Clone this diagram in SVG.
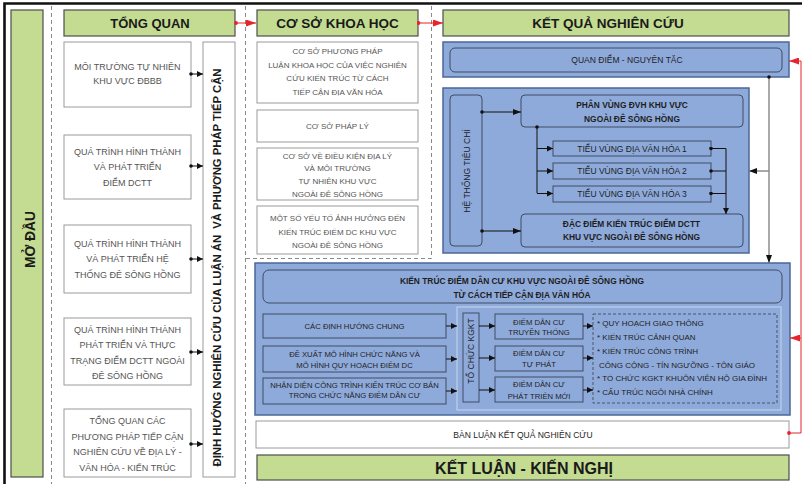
<svg xmlns="http://www.w3.org/2000/svg" width="802" height="484" viewBox="0 0 802 484">
<style>
text{font-family:"Liberation Sans",Arial,Helvetica,sans-serif}
.green{fill:#c4dc91;stroke:#4d4d4d;stroke-width:1.2}
.white{fill:#ffffff;stroke:#9a9a9a;stroke-width:1}
.blue{fill:#8eaadb;stroke:#4a6796;stroke-width:1.5}
.bin{fill:#8eaadb;stroke:#3e4c63;stroke-width:1}
.grp{fill:none;stroke:#c9d6ee;stroke-width:1}
.dash{fill:none;stroke:#8a8a8a;stroke-width:1;stroke-dasharray:4 3}
.ldash{fill:none;stroke:#4a5566;stroke-width:1;stroke-dasharray:3 2}
.bar{font-weight:bold;fill:#1a1a1a;text-anchor:middle}
.g9{font-size:9px;fill:#555;text-anchor:middle}
.g8{font-size:8px;fill:#555;text-anchor:middle}
.d8{font-size:8.5px;fill:#1e1e1e;text-anchor:middle}
.d8b{font-size:8.4px;fill:#1e1e1e;text-anchor:middle;font-weight:bold}
.k8{font-size:7.7px;fill:#1e1e1e;text-anchor:middle}
.li{font-size:8px;fill:#1e1e1e}
.c{fill:none;stroke:#111;stroke-width:1}
.cg{fill:none;stroke:#8c8c8c;stroke-width:1.5}
.cr{fill:none;stroke:#e5252b;stroke-width:1}
</style>
<defs>
<marker id="ah" viewBox="0 0 8 6" refX="8" refY="3" markerWidth="8" markerHeight="6" markerUnits="userSpaceOnUse" orient="auto"><path d="M0,0 L8,3 L0,6 Z" fill="#111"/></marker>
<marker id="ahs" viewBox="0 0 6 6" refX="6" refY="3" markerWidth="6" markerHeight="6" markerUnits="userSpaceOnUse" orient="auto"><path d="M0,0 L6,3 L0,6 Z" fill="#111"/></marker>
<marker id="dot" viewBox="0 0 4 4" refX="2" refY="2" markerWidth="4" markerHeight="4" markerUnits="userSpaceOnUse"><circle cx="2" cy="2" r="1.8" fill="#111"/></marker>
<marker id="ahr" viewBox="0 0 10 7" refX="10" refY="3.5" markerWidth="10" markerHeight="7" markerUnits="userSpaceOnUse" orient="auto"><path d="M0,0 L10,3.5 L0,7 Z" fill="#e5252b"/></marker>
<marker id="dotr" viewBox="0 0 4 4" refX="2" refY="2" markerWidth="4" markerHeight="4" markerUnits="userSpaceOnUse"><circle cx="2" cy="2" r="1.9" fill="#e5252b"/></marker>
</defs>

<!-- frame and section dividers -->
<path d="M4.5,484 V3.5 H802" fill="none" stroke="#111" stroke-width="2.6"/>
<path class="dash" d="M51.5,6 V484"/>
<path class="dash" d="M245.5,6 V484"/>
<path class="dash" d="M431.5,6 V258.5 H245.5"/>

<g id="mo-dau">
<rect class="green" x="11" y="10" width="32" height="467"/>
<text class="bar" font-size="13.8" transform="translate(34.5,239.5) rotate(-90)">MỞ ĐẦU</text>
</g>

<g id="tong-quan">
<rect class="green" x="64" y="10" width="171" height="26"/>
<text class="bar" font-size="13" x="150" y="27.5">TỔNG QUAN</text>
</g>

<g id="tq-1">
<rect class="white" x="64" y="42" width="127" height="65"/>
<text class="g9" x="127.5" y="69.5">MÔI TRƯỜNG TỰ NHIÊN</text>
<text class="g9" x="127.5" y="84.3">KHU VỰC ĐBBB</text>
</g>
<g id="tq-2">
<rect class="white" x="64" y="135" width="127" height="64"/>
<text class="g9" x="127.5" y="155">QUÁ TRÌNH HÌNH THÀNH</text>
<text class="g9" x="127.5" y="170">VÀ PHÁT TRIỂN</text>
<text class="g9" x="127.5" y="185.5">ĐIỂM DCTT</text>
</g>
<g id="tq-3">
<rect class="white" x="64" y="225" width="127" height="68"/>
<text class="g9" x="127.5" y="246.5">QUÁ TRÌNH HÌNH THÀNH</text>
<text class="g9" x="127.5" y="262">VÀ PHÁT TRIỂN HỆ</text>
<text class="g9" x="127.5" y="277.5">THỐNG ĐÊ SÔNG HỒNG</text>
</g>
<g id="tq-4">
<rect class="white" x="64" y="318" width="127" height="67"/>
<text class="g9" x="127.5" y="332.5">QUÁ TRÌNH HÌNH THÀNH</text>
<text class="g9" x="127.5" y="348">PHÁT TRIỂN VÀ THỰC</text>
<text class="g9" x="127.5" y="363.5">TRẠNG ĐIỂM DCTT NGOÀI</text>
<text class="g9" x="127.5" y="378.5">ĐÊ SÔNG HỒNG</text>
</g>
<g id="tq-5">
<rect class="white" x="64" y="409" width="127" height="68"/>
<text class="g9" x="127.5" y="423.5">TỔNG QUAN CÁC</text>
<text class="g9" x="127.5" y="439.5">PHƯƠNG PHÁP TIẾP CẬN</text>
<text class="g9" x="127.5" y="455">NGHIÊN CỨU VỀ ĐỊA LÝ -</text>
<text class="g9" x="127.5" y="470.5">VĂN HÓA - KIẾN TRÚC</text>
</g>
<g id="dinh-huong">
<rect class="white" x="203" y="42" width="32" height="435"/>
<text class="bar" font-size="11.3" transform="translate(221,267.5) rotate(-90)" textLength="398" lengthAdjust="spacing" xml:space="preserve">ĐỊNH HƯỚNG NGHIÊN CỨU CỦA LUẬN ÁN  VÀ PHƯƠNG PHÁP TIẾP CẬN</text>
</g>

<g id="co-so-khoa-hoc">
<rect class="green" x="257" y="10" width="161" height="26"/>
<text class="bar" font-size="13.5" x="337.5" y="28">CƠ SỞ KHOA HỌC</text>
</g>
<g id="cs-1">
<rect class="white" x="257" y="42" width="161" height="61"/>
<text class="g8" x="337.5" y="54">CƠ SỞ PHƯƠNG PHÁP</text>
<text class="g8" x="337.5" y="67.5">LUẬN KHOA HỌC CỦA VIỆC NGHIÊN</text>
<text class="g8" x="337.5" y="81">CỨU KIẾN TRÚC TỪ CÁCH</text>
<text class="g8" x="337.5" y="95">TIẾP CẬN ĐỊA VĂN HÓA</text>
</g>
<g id="cs-2">
<rect class="white" x="257" y="110" width="161" height="32"/>
<text class="g8" x="337.5" y="129">CƠ SỞ PHÁP LÝ</text>
</g>
<g id="cs-3">
<rect class="white" x="257" y="148" width="161" height="52"/>
<text class="g8" x="337.5" y="159">CƠ SỞ VỀ ĐIỀU KIỆN ĐỊA LÝ</text>
<text class="g8" x="337.5" y="171">VÀ MÔI TRƯỜNG</text>
<text class="g8" x="337.5" y="184">TỰ NHIÊN KHU VỰC</text>
<text class="g8" x="337.5" y="196.5">NGOÀI ĐÊ SÔNG HỒNG</text>
</g>
<g id="cs-4">
<rect class="white" x="257" y="206" width="161" height="48"/>
<text class="g8" x="337.5" y="221">MỘT SỐ YẾU TỐ ẢNH HƯỞNG ĐẾN</text>
<text class="g8" x="337.5" y="234.5">KIẾN TRÚC ĐIỂM DC KHU VỰC</text>
<text class="g8" x="337.5" y="248">NGOÀI ĐÊ SÔNG HỒNG</text>
</g>

<g id="ket-qua">
<rect class="green" x="443" y="10" width="346" height="26"/>
<text class="bar" font-size="13.5" x="608" y="28">KẾT QUẢ NGHIÊN CỨU</text>
</g>
<g id="quan-diem">
<rect class="blue" x="443" y="42" width="346" height="35"/>
<rect class="bin" x="450" y="48" width="332" height="24" rx="5"/>
<text class="d8" x="627" y="63">QUAN ĐIỂM - NGUYÊN TẮC</text>
</g>

<g id="phan-vung-panel">
<rect class="blue" x="443" y="88" width="306" height="165"/>
</g>
<g id="he-thong-tieu-chi">
<rect class="bin" x="450" y="95" width="32" height="151" rx="4"/>
<text class="d8" font-size="8" transform="translate(469.5,171) rotate(-90)">HỆ THỐNG TIÊU CHÍ</text>
</g>
<g id="phan-vung">
<rect class="bin" x="521" y="95" width="222" height="32" rx="4"/>
<text class="d8b" x="632" y="108">PHÂN VÙNG ĐVH KHU VỰC</text>
<text class="d8b" x="632" y="122">NGOÀI ĐÊ SÔNG HỒNG</text>
</g>
<g id="tieu-vung-1">
<rect class="bin" x="553" y="141" width="158" height="15"/>
<text class="d8" x="632" y="151.5">TIỂU VÙNG ĐỊA VĂN HÓA 1</text>
</g>
<g id="tieu-vung-2">
<rect class="bin" x="553" y="163" width="158" height="16"/>
<text class="d8" x="632" y="174">TIỂU VÙNG ĐỊA VĂN HÓA 2</text>
</g>
<g id="tieu-vung-3">
<rect class="bin" x="553" y="186" width="158" height="16"/>
<text class="d8" x="632" y="197">TIỂU VÙNG ĐỊA VĂN HÓA 3</text>
</g>
<g id="dac-diem">
<rect class="bin" x="521" y="214" width="222" height="33" rx="4"/>
<text class="d8b" font-size="8.2" x="631.5" y="227">ĐẶC ĐIỂM KIẾN TRÚC ĐIỂM DCTT</text>
<text class="d8b" font-size="8.2" x="631.5" y="240">KHU VỰC NGOÀI ĐÊ SÔNG HỒNG</text>
</g>

<g id="kien-truc-panel">
<rect class="blue" x="255" y="263" width="535" height="152"/>
<rect class="bin" x="263" y="270" width="519" height="33" rx="6"/>
<text class="d8b" font-size="9" x="522" y="284">KIẾN TRÚC ĐIỂM DÂN CƯ KHU VỰC NGOÀI ĐÊ SÔNG HỒNG</text>
<text class="d8b" font-size="9" x="522" y="298">TỪ CÁCH TIẾP CẬN ĐỊA VĂN HÓA</text>
<rect class="grp" x="457" y="307" width="324" height="103"/>
</g>
<g id="dinh-huong-chung">
<rect class="bin" x="263" y="314" width="183" height="24"/>
<text class="k8" x="354.5" y="329">CÁC ĐỊNH HƯỚNG CHUNG</text>
</g>
<g id="de-xuat">
<rect class="bin" x="263" y="346" width="183" height="26"/>
<text class="k8" x="354.5" y="357">ĐỀ XUẤT MÔ HÌNH CHỨC NĂNG VÀ</text>
<text class="k8" x="354.5" y="367.5">MÔ HÌNH QUY HOẠCH ĐIỂM DC</text>
</g>
<g id="nhan-dien">
<rect class="bin" x="263" y="378" width="183" height="26"/>
<text class="k8" x="354.5" y="387.5">NHẬN DIỆN CÔNG TRÌNH KIẾN TRÚC CƠ BẢN</text>
<text class="k8" x="354.5" y="398">TRONG CHỨC NĂNG ĐIỂM DÂN CƯ</text>
</g>
<g id="to-chuc-kgkt">
<rect class="bin" x="463" y="313" width="16" height="89"/>
<text class="d8" font-size="8.2" transform="translate(474,351) rotate(-90)">TỔ CHỨC KGKT</text>
</g>
<g id="dc-truyen-thong">
<rect class="bin" x="495" y="314" width="88" height="25"/>
<text class="k8" x="539" y="324.5">ĐIỂM DÂN CƯ</text>
<text class="k8" x="539" y="335">TRUYỀN THỐNG</text>
</g>
<g id="dc-tu-phat">
<rect class="bin" x="495" y="346" width="88" height="25"/>
<text class="k8" x="539" y="355.5">ĐIỂM DÂN CƯ</text>
<text class="k8" x="539" y="366.5">TỰ PHÁT</text>
</g>
<g id="dc-phat-trien-moi">
<rect class="bin" x="495" y="377" width="88" height="25"/>
<text class="k8" x="539" y="387">ĐIỂM DÂN CƯ</text>
<text class="k8" x="539" y="398.5">PHÁT TRIỂN MỚI</text>
</g>
<g id="danh-sach">
<rect class="ldash" x="593" y="314" width="184" height="89"/>
<text class="li" x="597" y="326">* QUY HOẠCH GIAO THÔNG</text>
<text class="li" x="597" y="340">* KIẾN TRÚC CẢNH QUAN</text>
<text class="li" x="597" y="354">* KIẾN TRÚC CÔNG TRÌNH</text>
<text class="li" x="599" y="367.5">CÔNG CỘNG - TÍN NGƯỠNG - TÔN GIÁO</text>
<text class="li" x="597" y="381">* TỔ CHỨC KGKT KHUÔN VIÊN HỘ GIA ĐÌNH</text>
<text class="li" x="597" y="395">* CẤU TRÚC NGÔI NHÀ CHÍNH</text>
</g>

<g id="ban-luan">
<rect class="white" x="256" y="421" width="533" height="27"/>
<text class="d8" fill="#333" font-size="8.7" x="523" y="437.5">BÀN LUẬN KẾT QUẢ NGHIÊN CỨU</text>
</g>
<g id="ket-luan">
<rect class="green" x="257" y="455" width="532" height="25"/>
<text class="bar" font-size="16" x="524" y="473.5">KẾT LUẬN - KIẾN NGHỊ</text>
</g>

<g id="connectors">
<path class="cr" d="M236,23 H256" marker-start="url(#dotr)" marker-end="url(#ahr)"/>
<path class="cr" d="M418.5,23 H443" marker-start="url(#dotr)" marker-end="url(#ahr)"/>
<path class="c" d="M191,74 H203" marker-start="url(#dot)" marker-end="url(#ahs)"/>
<path class="c" d="M191,166 H203" marker-start="url(#dot)" marker-end="url(#ahs)"/>
<path class="c" d="M191,259 H203" marker-start="url(#dot)" marker-end="url(#ahs)"/>
<path class="c" d="M191,352 H203" marker-start="url(#dot)" marker-end="url(#ahs)"/>
<path class="c" d="M191,444 H203" marker-start="url(#dot)" marker-end="url(#ahs)"/>
<path class="c" d="M482,112 H521" marker-start="url(#dot)" marker-end="url(#ah)"/>
<path class="c" d="M482,231 H521" marker-start="url(#dot)" marker-end="url(#ah)"/>
<path class="c" d="M537,127 V193" marker-start="url(#dot)"/>
<path class="c" d="M537,148.5 H553" marker-end="url(#ahs)"/>
<path class="c" d="M537,171 H553" marker-end="url(#ahs)"/>
<path class="c" d="M537,193.5 H553" marker-end="url(#ahs)"/>
<path class="c" d="M711,148.5 H726 V214" marker-start="url(#dot)" marker-end="url(#ahs)"/>
<path class="c" d="M711,171 H726" marker-start="url(#dot)"/>
<path class="c" d="M711,193.5 H726" marker-start="url(#dot)"/>
<path class="cg" d="M769,77 V263" marker-start="url(#dot)" marker-end="url(#ah)"/>
<path class="cg" d="M769,171 H749" marker-end="url(#ah)"/>
<path class="c" d="M446,326 H457" marker-end="url(#ahs)"/>
<path class="c" d="M446,359 H457" marker-end="url(#ahs)"/>
<path class="c" d="M446,391 H457" marker-end="url(#ahs)"/>
<path class="c" d="M479,326 H495" marker-end="url(#ahs)"/>
<path class="c" d="M479,358 H495" marker-end="url(#ahs)"/>
<path class="c" d="M479,390 H495" marker-end="url(#ahs)"/>
<path class="c" d="M583,326 H593" marker-end="url(#ahs)"/>
<path class="c" d="M583,358 H593" marker-end="url(#ahs)"/>
<path class="c" d="M583,390 H593" marker-end="url(#ahs)"/>
<path class="cr" d="M789,433 H801 V61 H789" marker-start="url(#dotr)" marker-end="url(#ahr)"/>
<path class="cr" d="M801,338 H790" marker-end="url(#ahr)"/>
</g>
</svg>
